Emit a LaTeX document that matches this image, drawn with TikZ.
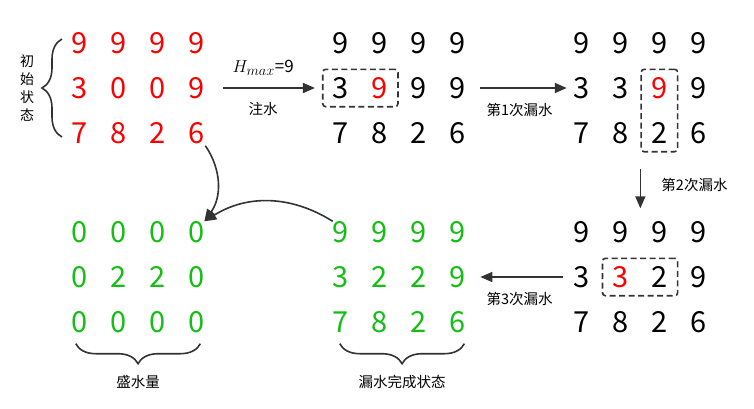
\documentclass[tikz,border=0pt]{standalone}
\usepackage{fontspec}
\setmainfont{Noto Sans CJK SC}
\usetikzlibrary{arrows.meta,fit,decorations.pathreplacing,positioning}
\definecolor{hot}{RGB}{250,0,0}
\definecolor{wet}{RGB}{20,190,20}
\definecolor{ink}{RGB}{51,51,51}
\newcommand\hotcell{\color{hot}}
\tikzset{
  num/.style={inner sep=0pt, text height=21pt, text depth=0pt, font=\fontsize{29}{29}\selectfont},
  flow/.style={draw=ink, line width=1.6pt, -{Triangle[length=12pt,width=10pt]}},
  pick/.style={draw=ink, line width=1.6pt, dash pattern=on 6pt off 3.5pt, rounded corners=3pt, inner xsep=10pt, inner ysep=8pt},
  note/.style={font=\fontsize{14.5}{14.5}\selectfont},
  curly/.style={draw=ink, line width=1.6pt, decorate, decoration={brace, amplitude=20pt}}
}
% name, left x, top y, colour, rows
\newcommand\grid[5]{%
  \foreach \row [count=\i] in {#5} {
    \foreach \d [count=\j] in \row
      \node[num, text=#4] (#1-\i-\j) at ({#2+(\j-1)*38.7}, {-#3-(\i-1)*45}) {\d};
  }
}
\begin{document}
\begin{tikzpicture}[x=1pt, y=1pt]
  \useasboundingbox (0,0) rectangle (754,-408);

  \grid{init}{80}{43}{hot}{{9,9,9,9},{3,0,0,9},{7,8,2,6}}
  \grid{fill}{341}{43}{black}{{9,9,9,9},{3,\hotcell 9,9,9},{7,8,2,6}}
  \grid{leak1}{582}{43}{black}{{9,9,9,9},{3,3,\hotcell 9,9},{7,8,2,6}}
  \grid{leak2}{582}{232}{black}{{9,9,9,9},{3,\hotcell 3,2,9},{7,8,2,6}}
  \grid{done}{341}{232}{wet}{{9,9,9,9},{3,2,2,9},{7,8,2,6}}
  \grid{water}{80}{232}{wet}{{0,0,0,0},{0,2,2,0},{0,0,0,0}}

  \node[pick, fit=(fill-2-1)(fill-2-2)] (box1) {};
  \node[pick, fit=(leak1-2-3)(leak1-3-3)] (box2) {};
  \node[pick, fit=(leak2-2-2)(leak2-2-3)] (box3) {};

  % initial state brace
  \node[align=center, font=\fontsize{14}{18}\selectfont] (start) at (27,-88) {初\\始\\状\\态};
  \draw[curly] (62,-137) -- (62,-39);

  \draw[flow] ([xshift=19pt]init-2-4.east) -- ([xshift=-7pt]box1.west)
    node[midway, xshift=-6pt, yshift=20pt, font=\fontsize{19}{19}\selectfont] {$H_{max}${\fontsize{17}{17}\selectfont=9}}
    node[note, midway, xshift=-6pt, yshift=-21pt] {注水};
  \draw[flow] ([xshift=15pt]fill-2-4.east) -- ([xshift=-7pt]leak1-2-1.west)
    node[note, midway, xshift=-4pt, yshift=-22pt] {第1次漏水};
  \draw[flow] ([yshift=-16pt]box2.south west) -- ([yshift=13pt]box2.west |- leak2-1-3.north)
    node[note, midway, anchor=west, xshift=17pt, yshift=3pt] {第2次漏水};
  \draw[flow] ([xshift=-11pt]leak2-2-1.west) -- ([xshift=15pt]done-2-4.east)
    node[note, midway, xshift=-2pt, yshift=-22pt] {第3次漏水};

  \draw[flow] ([xshift=1pt,yshift=-2pt]init-3-4.south east) to[bend left=35] (water-1-4.north east);
  \draw[flow] (done-1-1.north west) to[bend right=32] (water-1-4.north east);

  % result braces
  \draw[curly] ([xshift=-4pt,yshift=-11pt]water-3-4.south east) -- ([xshift=4pt,yshift=-11pt]water-3-1.south west)
    node[note, midway, yshift=-38pt] {盛水量};
  \draw[curly] ([xshift=-1pt,yshift=-11pt]done-3-4.south east) -- ([xshift=7pt,yshift=-11pt]done-3-1.south west)
    node[note, midway, yshift=-38pt] {漏水完成状态};
\end{tikzpicture}
\end{document}
